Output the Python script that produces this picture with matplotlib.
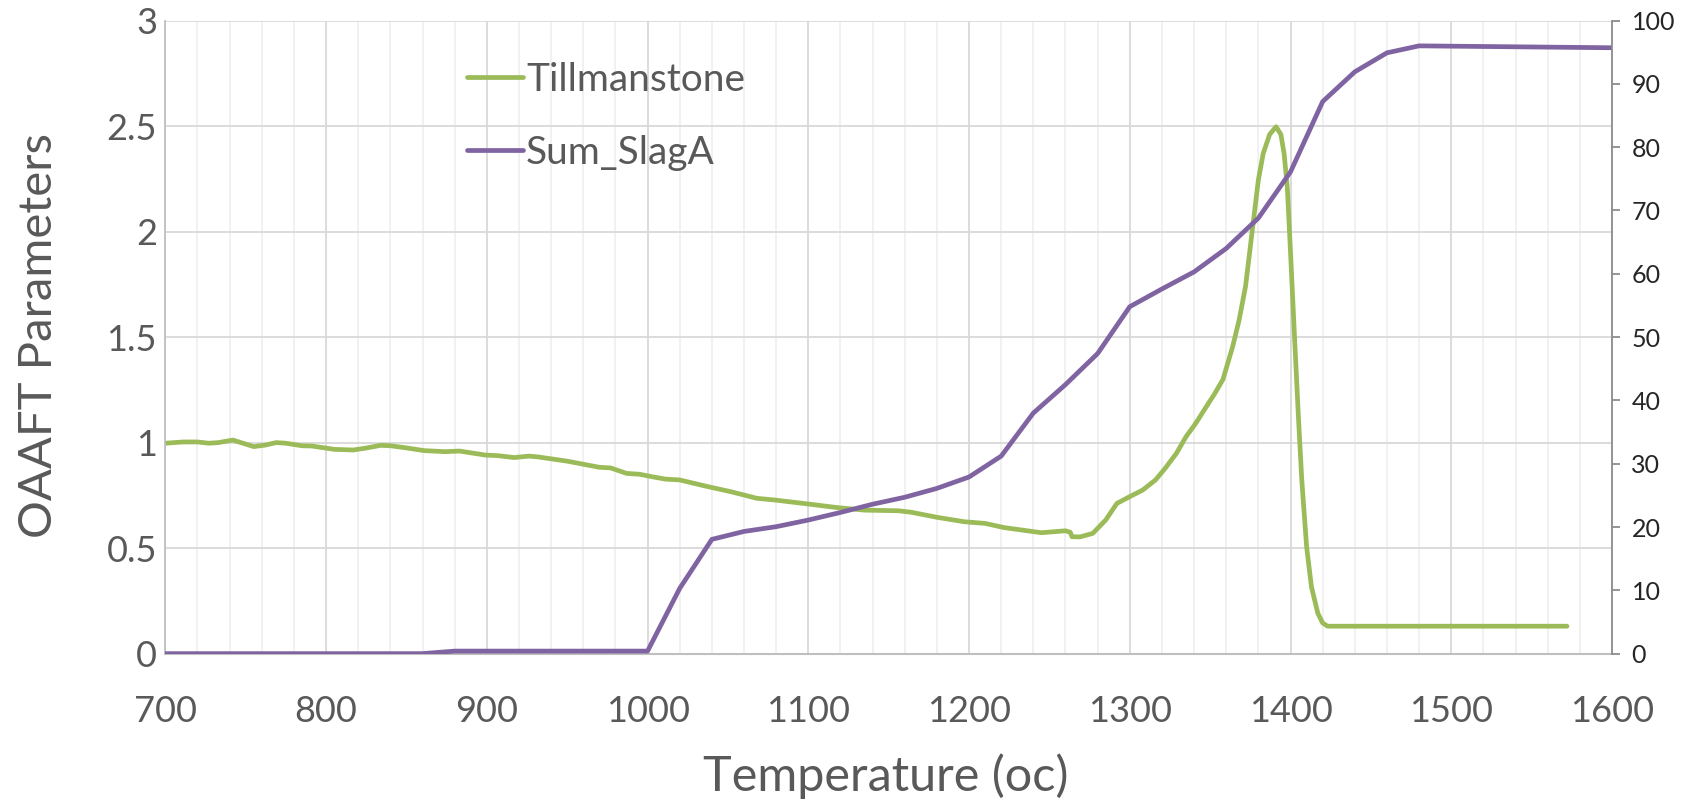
import numpy as np
import matplotlib
matplotlib.use('Agg')
import matplotlib.pyplot as plt
from matplotlib.ticker import MultipleLocator, FuncFormatter

plt.rcParams['font.family'] = ['Lato', 'DejaVu Sans']

# Tillmanstone (left axis)
till_T = [700, 711, 720, 727, 733, 742, 755, 762, 769, 775, 785, 791, 805, 817,
          824, 834, 840, 849, 861, 874, 883, 899, 907, 917, 926, 932, 950, 970,
          977, 987, 995, 1003, 1011, 1020, 1036, 1052, 1068, 1079, 1100, 1118,
          1135, 1156, 1164, 1180, 1197, 1210, 1222, 1245, 1260, 1263, 1264, 1269,
          1277, 1285, 1292, 1300, 1308, 1316, 1322, 1329, 1335, 1341, 1347, 1353,
          1358, 1364, 1368, 1372, 1377, 1380, 1383, 1387, 1391, 1394, 1396, 1398,
          1400, 1403, 1405, 1407, 1410, 1413, 1417, 1420, 1423, 1572]
till_v = [0.997, 1.003, 1.003, 0.997, 1.0, 1.012, 0.981, 0.988, 1.0, 0.997, 0.985,
          0.984, 0.968, 0.965, 0.973, 0.987, 0.985, 0.976, 0.962, 0.957, 0.96, 0.941,
          0.938, 0.929, 0.936, 0.932, 0.912, 0.883, 0.88, 0.854, 0.85, 0.838, 0.827,
          0.823, 0.794, 0.767, 0.736, 0.728, 0.709, 0.692, 0.68, 0.677, 0.67, 0.646,
          0.625, 0.617, 0.597, 0.573, 0.582, 0.575, 0.554, 0.553, 0.57, 0.633, 0.712,
          0.744, 0.775, 0.823, 0.878, 0.949, 1.028, 1.091, 1.163, 1.234, 1.3, 1.455,
          1.58, 1.74, 2.055, 2.245, 2.37, 2.46, 2.497, 2.46, 2.37, 2.21, 1.9, 1.42,
          1.107, 0.823, 0.507, 0.317, 0.191, 0.145, 0.13, 0.13]

# Sum_SlagA (right axis)
slag_T = [700, 860, 880, 1000, 1020, 1040, 1060, 1080, 1100, 1120, 1140, 1160,
          1180, 1200, 1220, 1240, 1260, 1280, 1300, 1320, 1340, 1360, 1380, 1400,
          1420, 1440, 1460, 1480, 1600]
slag_v = [0, 0, 0.4, 0.4, 10.3, 18.05, 19.3, 20.05, 21.1, 22.3, 23.6, 24.7, 26.1,
          27.9, 31.2, 38.0, 42.5, 47.4, 54.8, 57.6, 60.3, 64.0, 68.8, 76.1, 87.2,
          91.9, 94.9, 96.0, 95.7]

green = '#9BBB59'
purple = '#8064A2'
txt = '#595959'

fig = plt.figure(figsize=(16.94, 8.02), dpi=100)
ax = fig.add_axes([0.0976, 0.185, 0.854, 0.7894])
ax2 = ax.twinx()

l1, = ax.plot(till_T, till_v, color=green, lw=3.4, solid_capstyle='round',
              solid_joinstyle='round', label='Tillmanstone')
l2, = ax2.plot(slag_T, slag_v, color=purple, lw=3.4, solid_capstyle='round',
               solid_joinstyle='round', label='Sum_SlagA')

ax.set_xlim(700, 1600)
ax.set_ylim(0, 3)
ax2.set_ylim(0, 100)

ax.xaxis.set_major_locator(MultipleLocator(100))
ax.xaxis.set_minor_locator(MultipleLocator(20))
ax.yaxis.set_major_locator(MultipleLocator(0.5))
ax.yaxis.set_major_formatter(FuncFormatter(lambda v, p: '{:g}'.format(v)))
ax2.yaxis.set_major_locator(MultipleLocator(10))

ax.grid(which='major', color='#d9d9d9', lw=1.3)
ax.grid(which='minor', axis='x', color='#f0f0f0', lw=1.3)
ax.set_axisbelow(True)

for a in (ax, ax2):
    a.spines['top'].set_visible(False)
ax.spines['left'].set_color('#bfbfbf')
ax.spines['left'].set_linewidth(1.3)
ax.spines['bottom'].set_color('#bfbfbf')
ax.spines['bottom'].set_linewidth(1.5)
ax.spines['right'].set_visible(False)
ax2.spines['left'].set_visible(False)
ax2.spines['bottom'].set_visible(False)
ax2.spines['right'].set_color('#8c8c8c')
ax2.spines['right'].set_linewidth(1.3)

ax.tick_params(axis='both', which='both', length=0)
ax.tick_params(axis='x', pad=30, labelsize=26, labelcolor=txt)
ax.tick_params(axis='y', pad=6, labelsize=26, labelcolor=txt)
ax2.tick_params(axis='y', length=6, width=1.3, color='#8c8c8c', pad=8,
                labelsize=18, labelcolor='#262626')

ax.set_xlabel('Temperature (oc)', fontsize=35, color=txt, va='center')
ax.xaxis.set_label_coords(0.498, -0.193)
ax.set_ylabel('OAAFT Parameters', fontsize=34, color=txt, va='center')
ax.yaxis.set_label_coords(-0.087, 0.502)

fig.legend(handles=[l1, l2], loc='upper left', bbox_to_anchor=(0.264, 0.947),
           frameon=False, fontsize=28, labelcolor=txt, handlelength=1.45,
           handletextpad=0.08, labelspacing=0.95, borderpad=0)

fig.savefig('out.png', dpi=100)
